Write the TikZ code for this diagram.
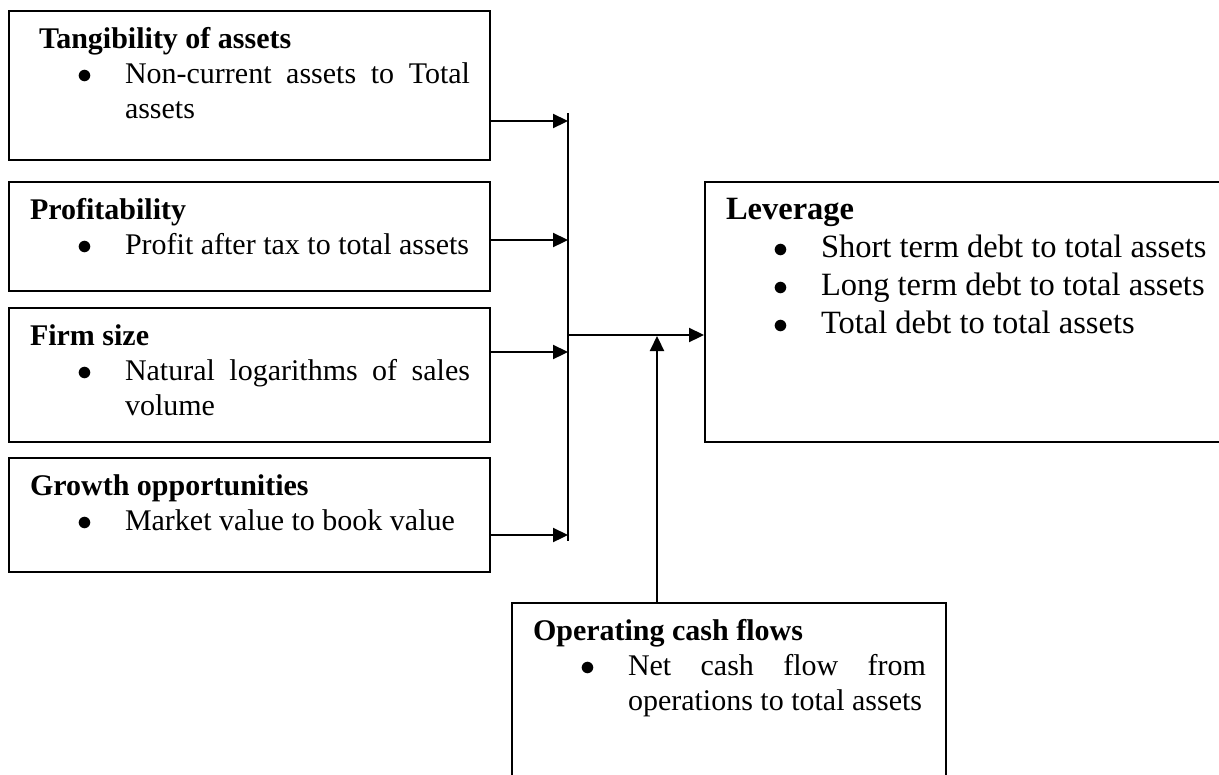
\documentclass[tikz,border=0pt]{standalone}
\usepackage{fontspec}
\setmainfont{Liberation Serif}
\usetikzlibrary{arrows.meta}

\newlength{\upx}
\setlength{\upx}{0.4pt}

% bullet line with hanging indent
\newcommand{\bitem}[1]{{\leftskip=116\upx\noindent\llap{$\bullet$\hspace*{33\upx}}#1\par}}
% box content: width, height, title indent, title, items
\newcommand{\factorbox}[5]{%
  \begin{minipage}[t][#2\upx][t]{#1\upx}
    \parindent=0pt\rightskip=20\upx\hyphenpenalty=10000
    {\leftskip=#3\upx\rule{0pt}{37\upx}\textbf{#4}\par}
    #5
  \end{minipage}}

\begin{document}
\begin{tikzpicture}[x=0.4pt, y=-0.4pt, >={Triangle[length=6pt,width=5.6pt]},
    factor/.style={draw, line width=0.8pt, inner sep=0pt, anchor=north west, font=\fontsize{12}{14}\selectfont},
    link/.style={line width=0.9pt}]
    \useasboundingbox (0,0) rectangle (1219,774);
    \clip (0,0) rectangle (1219,774);

    % Determinants
    \node[factor] (tang) at (8,10) {\factorbox{481}{149}{30}{Tangibility of assets}{\bitem{Non-current assets to Total assets}}};
    \node[factor] (prof) at (8,181) {\factorbox{481}{109}{21}{Profitability}{\bitem{Profit after tax to total assets}}};
    \node[factor] (size) at (8,307) {\factorbox{481}{134}{21}{Firm size}{\bitem{Natural logarithms of sales volume}}};
    \node[factor] (growth) at (8,457) {\factorbox{481}{114}{21}{Growth opportunities}{\bitem{Market value to book value}}};

    % Leverage and cash flows
    \node[factor, font=\fontsize{13}{15.2}\selectfont] (lev) at (704,181) {\factorbox{540}{260}{21}{Leverage}{%
        \bitem{Short term debt to total assets}\bitem{Long term debt to total assets}\bitem{Total debt to total assets}}};
    \node[factor] (ocf) at (511,602) {\factorbox{434}{200}{21}{Operating cash flows}{\bitem{Net cash flow from operations to total assets}}};

    % Connectors
    \coordinate (bustop) at (568,113);
    \coordinate (busbot) at (568,541);
    \coordinate (j1) at (568,121);
    \coordinate (j2) at (568,240);
    \coordinate (j3) at (568,352);
    \coordinate (j4) at (568,535);
    \coordinate (jout) at (568,335);
    \coordinate (jup) at (657,336);
    \draw[link] (bustop) -- (busbot);
    \draw[link, ->] (tang.east |- j1) -- (j1);
    \draw[link, ->] (prof.east |- j2) -- (j2);
    \draw[link, ->] (size.east |- j3) -- (j3);
    \draw[link, ->] (growth.east |- j4) -- (j4);
    \draw[link, ->] (jout) -- (lev.west |- jout);
    \draw[link, ->] (ocf.north -| jup) -- (jup);
\end{tikzpicture}
\end{document}
